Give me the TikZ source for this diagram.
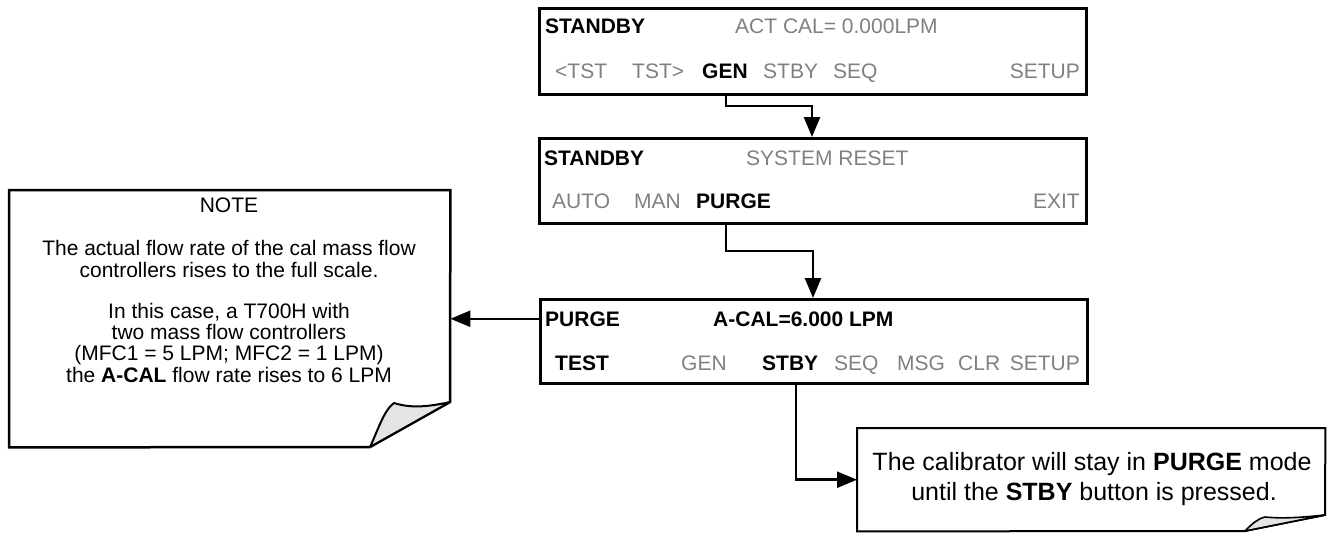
\documentclass[tikz,border=0pt]{standalone}
\usepackage{fontspec}
\setmainfont{Liberation Sans}
\usetikzlibrary{arrows.meta}
\definecolor{lcdgray}{RGB}{128,128,128}
\definecolor{curlgray}{RGB}{228,228,228}
\begin{document}
\begin{tikzpicture}[x=1pt,y=-1pt,
  lcd/.style={draw, line width=2.6pt, inner sep=0, anchor=north west},
  lt/.style={inner sep=0, anchor=base west, font=\fontsize{21}{21}\selectfont},
  ltr/.style={lt, anchor=base east},
  dim/.style={text=lcdgray},
  notetext/.style={inner sep=0, anchor=base, font=\fontsize{21}{21}\selectfont},
  caltext/.style={inner sep=0, anchor=base, font=\fontsize{25}{25}\selectfont},
  arr/.style={line width=2.5pt, -{Triangle[length=20pt,width=16pt]}},
  hold/.style={inner sep=0, anchor=north west},
  outline/.style={line width=2.5pt, line join=miter},
  curl/.style={fill=curlgray, line width=2pt, line join=round}
]
\useasboundingbox (0,0) rectangle (1328,533);

% ---------- screen 1 ----------
\node[lcd, minimum width=547pt, minimum height=86pt] (b1) at (538,7) {};
\node[lt] (b1a) at (545,33) {\bfseries STANDBY};
\node[lt, dim] (b1b) at (735,33) {ACT CAL= 0.000LPM};
\node[lt, dim] (b1c) at (555,78) {<TST};
\node[lt, dim] (b1d) at (632,78) {TST>};
\node[lt] (b1e) at (702,78) {\bfseries GEN};
\node[lt, dim] (b1f) at (763,78) {STBY};
\node[lt, dim] (b1g) at (833,78) {SEQ};
\node[ltr, dim] (b1h) at (1080,78) {SETUP};

% ---------- screen 2 ----------
\node[lcd, minimum width=547pt, minimum height=85pt] (b2) at (538,137) {};
\node[lt] (b2a) at (544,165) {\bfseries STANDBY};
\node[lt, dim] (b2b) at (746,165) {SYSTEM RESET};
\node[lt, dim] (b2c) at (552,208) {AUTO};
\node[lt, dim] (b2d) at (634,208) {MAN};
\node[lt] (b2e) at (696,208) {\bfseries PURGE};
\node[ltr, dim] (b2f) at (1080,208) {EXIT};

% ---------- screen 3 ----------
\node[lcd, minimum width=547pt, minimum height=84pt] (b3) at (539,298) {};
\node[lt] (b3a) at (545,326) {\bfseries PURGE};
\node[lt] (b3b) at (713,326) {\bfseries A-CAL=6.000 LPM};
\node[lt] (b3c) at (555,370) {\bfseries TEST};
\node[lt, dim] (b3d) at (681,370) {GEN};
\node[lt] (b3e) at (762,370) {\bfseries STBY};
\node[lt, dim] (b3f) at (834,370) {SEQ};
\node[lt, dim] (b3g) at (897,370) {MSG};
\node[lt, dim] (b3h) at (958,370) {CLR};
\node[ltr, dim] (b3i) at (1080,370) {SETUP};

% ---------- note ----------
\node[hold, minimum width=441pt, minimum height=257pt] (note) at (9,190) {};
\draw[outline] (note.north west) -- (note.north east) -- (450,402) -- (370,447) -- (note.south west) -- cycle;
\filldraw[curl] (370,447) .. controls (378,430) and (384,410) .. (394,403)
  .. controls (412,409) and (432,406) .. (450,402) -- cycle;
\node[notetext] (n1) at (229,212) {NOTE};
\node[notetext] (n2) at (229,255) {The actual flow rate of the cal mass flow};
\node[notetext] (n3) at (229,277) {controllers rises to the full scale.};
\node[notetext] (n4) at (229,318) {In this case, a T700H with};
\node[notetext] (n5) at (229,339) {two mass flow controllers};
\node[notetext] (n6) at (229,360) {(MFC1 = 5 LPM; MFC2 = 1 LPM)};
\node[notetext] (n7) at (229,382) {the \textbf{A-CAL} flow rate rises to 6 LPM};

% ---------- callout ----------
\node[hold, minimum width=468pt, minimum height=103pt] (cal) at (857,428) {};
\draw[line width=2pt, line join=miter] (cal.north west) -- (cal.north east) -- (1325,515) -- (1245,531) -- (cal.south west) -- cycle;
\filldraw[curl, line width=1.6pt] (1245,531) .. controls (1252,524) and (1257,519) .. (1265,517)
  .. controls (1285,519) and (1305,517) .. (1325,515) -- cycle;
\node[caltext] (c1) at (1092,470) {The calibrator will stay in \textbf{PURGE} mode};
\node[caltext] (c2) at (1094,500) {until the \textbf{STBY} button is pressed.};

% ---------- connectors ----------
\coordinate (s1) at (726,93);
\coordinate (t1) at (812,137);
\coordinate (s2) at (726,222);
\coordinate (t2) at (813,298);
\coordinate (s4) at (796,382);
\draw[arr] (s1) -- ++(0,13) -| (t1);
\draw[arr] (s2) -- ++(0,29) -| (t2);
\draw[arr] (b3.west |- b3a.center) -- (note.east |- b3a.center);
\draw[arr] (s4) |- (cal.west);
\end{tikzpicture}
\end{document}
